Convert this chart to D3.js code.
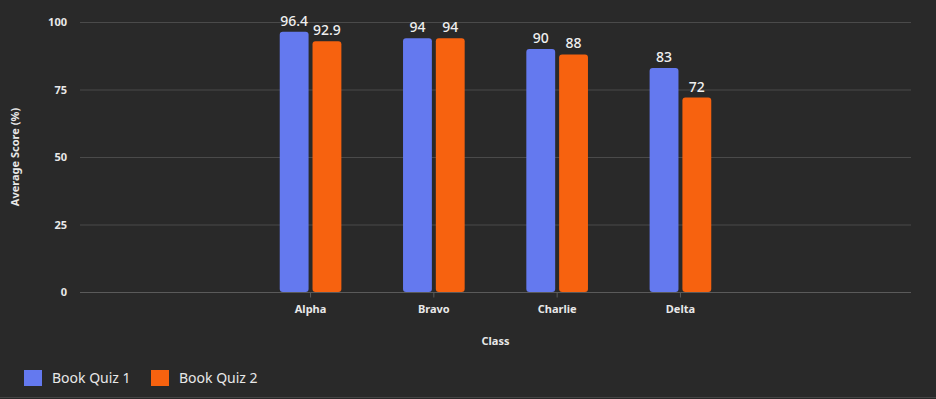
<!DOCTYPE html>
<html>
<head>
  <script src="https://d3js.org/d3.v7.min.js"></script>
  <style>
    body { margin: 0; background: #292929; }
    text { font-family: "Noto Sans", "Open Sans", sans-serif; }
  </style>
</head>
<body>
  <div id="chart"></div>
  <script>
    // data
    var classes = ["Alpha", "Bravo", "Charlie", "Delta"];
    var seriesNames = ["Book Quiz 1", "Book Quiz 2"];
    var quiz1 = [96.4, 94, 90, 83];
    var quiz2 = [92.9, 94, 88, 72];
    var yTicks = [0, 25, 50, 75, 100];
    var colors = ["#6479ef", "#f7620f"];

    var W = 936, H = 399;
    var plot = { left: 80, right: 911, top: 22, bottom: 292 };

    var svg = d3.select("#chart").append("svg")
      .attr("width", W).attr("height", H);

    svg.append("rect").attr("width", W).attr("height", H).attr("fill", "#292929");
    // thin border at the bottom of the frame
    svg.append("line").attr("x1", 0).attr("x2", W).attr("y1", 397.5).attr("y2", 397.5)
      .attr("stroke", "#444").attr("stroke-width", 1);

    var y = d3.scaleLinear().domain([0, 100]).range([plot.bottom, plot.top]);

    var x0 = d3.scaleBand().domain(classes)
      .range([plot.left, plot.right])
      .paddingInner(0.5).paddingOuter(1.62);

    var x1 = d3.scaleBand().domain(seriesNames)
      .range([0, x0.bandwidth()]).paddingInner(0.12);

    // gridlines
    svg.append("g").selectAll("line").data(yTicks).enter().append("line")
      .attr("x1", plot.left).attr("x2", plot.right)
      .attr("y1", d => y(d) + 0.5).attr("y2", d => y(d) + 0.5)
      .attr("stroke", d => d === 0 ? "#5a5a5a" : "#4a4a4a")
      .attr("stroke-width", 1.2);

    // y axis labels
    var yAxis = svg.append("g")
      .attr("transform", "translate(" + plot.left + ",0)")
      .call(d3.axisLeft(y).tickValues(yTicks).tickSize(0).tickPadding(13));
    yAxis.select(".domain").remove();
    yAxis.selectAll("text")
      .attr("fill", "#e8e8e8").style("font-size", "11px").style("font-weight", "bold");

    // x axis
    var xAxis = svg.append("g")
      .attr("transform", "translate(0," + (plot.bottom + 0.5) + ")")
      .call(d3.axisBottom(x0).tickSize(5).tickPadding(8));
    xAxis.select(".domain").remove();
    xAxis.selectAll("line").attr("stroke", "#5a5a5a");
    xAxis.selectAll("text")
      .attr("fill", "#e8e8e8").style("font-size", "11px").style("font-weight", "bold");

    // bars
    var rows = classes.map((c, i) => ({ cls: c, vals: [quiz1[i], quiz2[i]] }));

    var groups = svg.append("g").selectAll("g").data(rows).enter().append("g")
      .attr("transform", d => "translate(" + x0(d.cls) + ",0)");

    groups.selectAll("rect")
      .data(d => d.vals.map((v, j) => ({ name: seriesNames[j], value: v, j: j })))
      .enter().append("rect")
      .attr("x", d => x1(d.name))
      .attr("y", d => y(d.value))
      .attr("width", x1.bandwidth())
      .attr("height", d => plot.bottom - y(d.value))
      .attr("rx", 3)
      .attr("fill", d => colors[d.j]);

    // value labels
    groups.selectAll("text")
      .data(d => d.vals.map((v, j) => ({ name: seriesNames[j], value: v })))
      .enter().append("text")
      .attr("x", d => x1(d.name) + x1.bandwidth() / 2)
      .attr("y", d => y(d.value) - 6)
      .attr("text-anchor", "middle")
      .attr("fill", "#f0f0f0")
      .style("font-size", "14px")
      .style("font-weight", "500")
      .text(d => d.value);

    // axis titles
    svg.append("text")
      .attr("x", (plot.left + plot.right) / 2).attr("y", 345)
      .attr("text-anchor", "middle")
      .attr("fill", "#e8e8e8").style("font-size", "11px").style("font-weight", "bold")
      .text("Class");

    svg.append("text")
      .attr("transform", "translate(19," + (plot.top + plot.bottom) / 2 + ") rotate(-90)")
      .attr("text-anchor", "middle")
      .attr("fill", "#e8e8e8").style("font-size", "11px").style("font-weight", "bold")
      .text("Average Score (%)");

    // legend
    var legendX = [24, 151];
    var legend = svg.append("g").selectAll("g").data(seriesNames).enter().append("g")
      .attr("transform", (d, i) => "translate(" + legendX[i] + ",370)");
    legend.append("rect")
      .attr("width", 18).attr("height", 16)
      .attr("fill", (d, i) => colors[i]);
    legend.append("text")
      .attr("x", 28).attr("y", 13)
      .attr("fill", "#e8e8e8").style("font-size", "14px")
      .text(d => d);
  </script>
</body>
</html>
